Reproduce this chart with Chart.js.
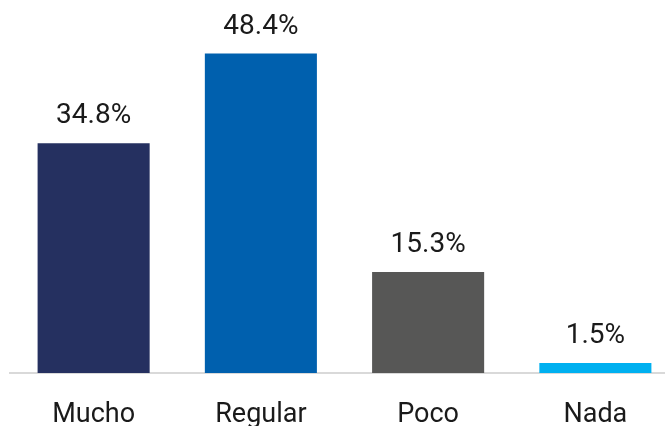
<!DOCTYPE html>
<html>
<head>
<meta charset="utf-8">
<script src="https://cdn.jsdelivr.net/npm/chart.js@4/dist/chart.umd.min.js"></script>
<style>
html,body{margin:0;padding:0;background:#fff;overflow:hidden;}
#wrap{width:690px;height:426px;}
</style>
</head>
<body>
<div id="wrap"><canvas id="c" width="690" height="426"></canvas></div>
<script>
const categories = ["Mucho", "Regular", "Poco", "Nada"];
const values = [34.8, 48.4, 15.3, 1.5];
const barColors = ["#253060", "#0060AE", "#575756", "#00B0F0"];
const FONT = "Roboto, 'Liberation Sans', sans-serif";

const valueLabels = {
  id: 'valueLabels',
  afterDatasetsDraw(chart) {
    const ctx = chart.ctx;
    const meta = chart.getDatasetMeta(0);
    ctx.save();
    ctx.font = "400 28px " + FONT;
    ctx.fillStyle = "#1a1a1a";
    ctx.textAlign = "center";
    ctx.textBaseline = "middle";
    meta.data.forEach((bar, i) => {
      ctx.fillText(values[i].toFixed(1) + "%", bar.x, bar.y - 27);
    });
    ctx.restore();
  }
};

new Chart(document.getElementById('c'), {
  type: 'bar',
  data: {
    labels: categories,
    datasets: [{
      data: values,
      backgroundColor: barColors,
      borderWidth: 0,
      barPercentage: 1,
      categoryPercentage: 0.67
    }]
  },
  options: {
    responsive: false,
    animation: false,
    devicePixelRatio: 1,
    layout: { padding: { left: 10, right: 11, top: 43, bottom: 0 } },
    plugins: { legend: { display: false }, tooltip: { enabled: false } },
    scales: {
      x: {
        grid: { display: false, drawTicks: false },
        border: { display: true, color: "#D9D9D9", width: 2 },
        ticks: { color: "#1a1a1a", font: { family: FONT, size: 27 }, padding: 26 },
        afterFit: (s) => { s.height = 53; }
      },
      y: {
        display: false,
        min: 0,
        max: 50
      }
    }
  },
  plugins: [valueLabels]
});
</script>
</body>
</html>
